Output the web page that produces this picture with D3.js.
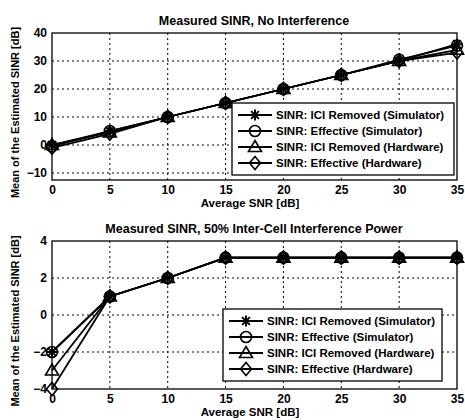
<!DOCTYPE html>
<meta charset="utf-8">
<script src="https://d3js.org/d3.v7.min.js"></script>
<style>
  body { margin: 0; background: #fff; }
  text { font-family: "Liberation Sans", Arial, sans-serif; font-weight: bold; fill: #000; }
</style>
<svg id="chart" width="465" height="420"></svg>
<script>
    // shared x values (Average SNR, dB)
    const snr = [0, 5, 10, 15, 20, 25, 30, 35];
    const seriesNames = [
        "SINR: ICI Removed (Simulator)",
        "SINR: Effective (Simulator)",
        "SINR: ICI Removed (Hardware)",
        "SINR: Effective (Hardware)"
    ];
    const markerTypes = ["star", "circle", "triangle", "diamond"];

    // top panel: no interference
    const topIciSim = [0, 5, 10, 15, 20, 25, 30, 36];
    const topEffSim = [-0.5, 5, 10, 15, 20, 25, 30.5, 35.5];
    const topIciHw = [0, 4.5, 10, 15, 20, 25, 30, 34];
    const topEffHw = [-1, 4, 10, 15, 20, 25, 30, 33];
    const topYTicks = [-10, 0, 10, 20, 30, 40];

    // bottom panel: 50% inter-cell interference
    const botIciSim = [-2, 1, 2, 3.1, 3.1, 3.1, 3.1, 3.1];
    const botEffSim = [-2, 1, 2, 3.1, 3.1, 3.1, 3.1, 3.1];
    const botIciHw = [-3, 1, 2, 3.1, 3.1, 3.1, 3.1, 3.1];
    const botEffHw = [-4, 1, 2, 3.1, 3.1, 3.1, 3.1, 3.1];
    const botYTicks = [-4, -2, 0, 2, 4];

    const xTicks = [0, 5, 10, 15, 20, 25, 30, 35];

    const svg = d3.select("#chart");

    function marker(g, type, x, y) {
        const s = 5.5;
        if (type === "circle") {
            g.append("circle").attr("cx", x).attr("cy", y).attr("r", s)
                .attr("fill", "none").attr("stroke", "#000").attr("stroke-width", 1.6);
        } else if (type === "triangle") {
            g.append("path").attr("d", `M${x},${y - s - 1}L${x + s + 1},${y + s - 1}L${x - s - 1},${y + s - 1}Z`)
                .attr("fill", "none").attr("stroke", "#000").attr("stroke-width", 1.6);
        } else if (type === "diamond") {
            g.append("path").attr("d", `M${x},${y - s - 1}L${x + s},${y}L${x},${y + s + 1}L${x - s},${y}Z`)
                .attr("fill", "none").attr("stroke", "#000").attr("stroke-width", 1.6);
        } else {
            const p = d3.path();
            for (let k = 0; k < 4; k++) {
                const a = k * Math.PI / 4;
                p.moveTo(x - s * Math.cos(a), y - s * Math.sin(a));
                p.lineTo(x + s * Math.cos(a), y + s * Math.sin(a));
            }
            g.append("path").attr("d", p.toString()).attr("stroke", "#000").attr("stroke-width", 2);
        }
    }

    function panel(opts) {
        const x = d3.scaleLinear().domain([0, 35]).range([52, 457]);
        const y = d3.scaleLinear().domain(opts.yDomain).range([opts.bottom, opts.top]);
        const g = svg.append("g");

        // frame
        g.append("rect").attr("x", 52).attr("y", opts.top).attr("width", 405)
            .attr("height", opts.bottom - opts.top).attr("fill", "#fff")
            .attr("stroke", "#000").attr("stroke-width", 1.3);

        // grid
        g.selectAll(".vg").data(xTicks.slice(1, -1)).join("line")
            .attr("x1", d => x(d)).attr("x2", d => x(d))
            .attr("y1", opts.top).attr("y2", opts.bottom)
            .attr("stroke", "#000").attr("stroke-width", 1).attr("stroke-dasharray", "2,3");
        g.selectAll(".hg").data(opts.yTicks.filter(t => y(t) > opts.top + 1 && y(t) < opts.bottom - 1)).join("line")
            .attr("x1", 52).attr("x2", 457)
            .attr("y1", d => y(d)).attr("y2", d => y(d))
            .attr("stroke", "#000").attr("stroke-width", 1).attr("stroke-dasharray", "2,3");

        // axes with D3
        const xAxis = d3.axisBottom(x).tickValues(xTicks).tickSize(0).tickPadding(5);
        const yAxis = d3.axisLeft(y).tickValues(opts.yTicks).tickSize(0).tickPadding(5);
        const gx = g.append("g").attr("transform", `translate(0,${opts.bottom})`).call(xAxis);
        const gy = g.append("g").attr("transform", "translate(52,0)").call(yAxis);
        [gx, gy].forEach(a => {
            a.select(".domain").remove();
            a.selectAll("text").style("font-size", "12px").style("font-weight", "bold")
                .style("font-family", "'Liberation Sans', Arial, sans-serif");
        });

        // series lines + markers
        const line = d3.line().x((d, i) => x(snr[i])).y(d => y(d));
        opts.series.forEach((vals, si) => {
            g.append("path").datum(vals).attr("d", line)
                .attr("fill", "none").attr("stroke", "#000").attr("stroke-width", 1.8);
            vals.forEach((v, i) => marker(g, markerTypes[si], x(snr[i]), y(v)));
        });

        // title + labels
        svg.append("text").attr("x", 254).attr("y", opts.top - 8).attr("text-anchor", "middle")
            .style("font-size", "12.5px").text(opts.title);
        svg.append("text").attr("x", 250).attr("y", opts.bottom + 27).attr("text-anchor", "middle")
            .style("font-size", "11.5px").text("Average SNR [dB]");
        svg.append("text").attr("transform", `translate(19,${(opts.top + opts.bottom) / 2 + 6}) rotate(-90)`)
            .attr("text-anchor", "middle").style("font-size", "11px")
            .text("Mean of the Estimated SINR [dB]");

        // legend
        const lg = svg.append("g").attr("transform", `translate(${opts.legend[0]},${opts.legend[1]})`);
        lg.append("rect").attr("width", opts.legend[2]).attr("height", 72)
            .attr("fill", "#fff").attr("stroke", "#000").attr("stroke-width", 1.3);
        seriesNames.forEach((name, i) => {
            const ly = 12 + i * 16;
            lg.append("line").attr("x1", 6).attr("x2", 40).attr("y1", ly).attr("y2", ly)
                .attr("stroke", "#000").attr("stroke-width", 1.8);
            marker(lg, markerTypes[i], 23, ly);
            lg.append("text").attr("x", 44).attr("y", ly + 4).style("font-size", "11.5px").text(name);
        });
    }

    panel({
        title: "Measured SINR, No Interference",
        top: 33, bottom: 180, yDomain: [-12.5, 40], yTicks: topYTicks,
        series: [topIciSim, topEffSim, topIciHw, topEffHw],
        legend: [232, 103, 222]
    });
    panel({
        title: "Measured SINR, 50% Inter-Cell Interference Power",
        top: 241, bottom: 389, yDomain: [-4, 4], yTicks: botYTicks,
        series: [botIciSim, botEffSim, botIciHw, botEffHw],
        legend: [223, 309, 219]
    });
</script>
